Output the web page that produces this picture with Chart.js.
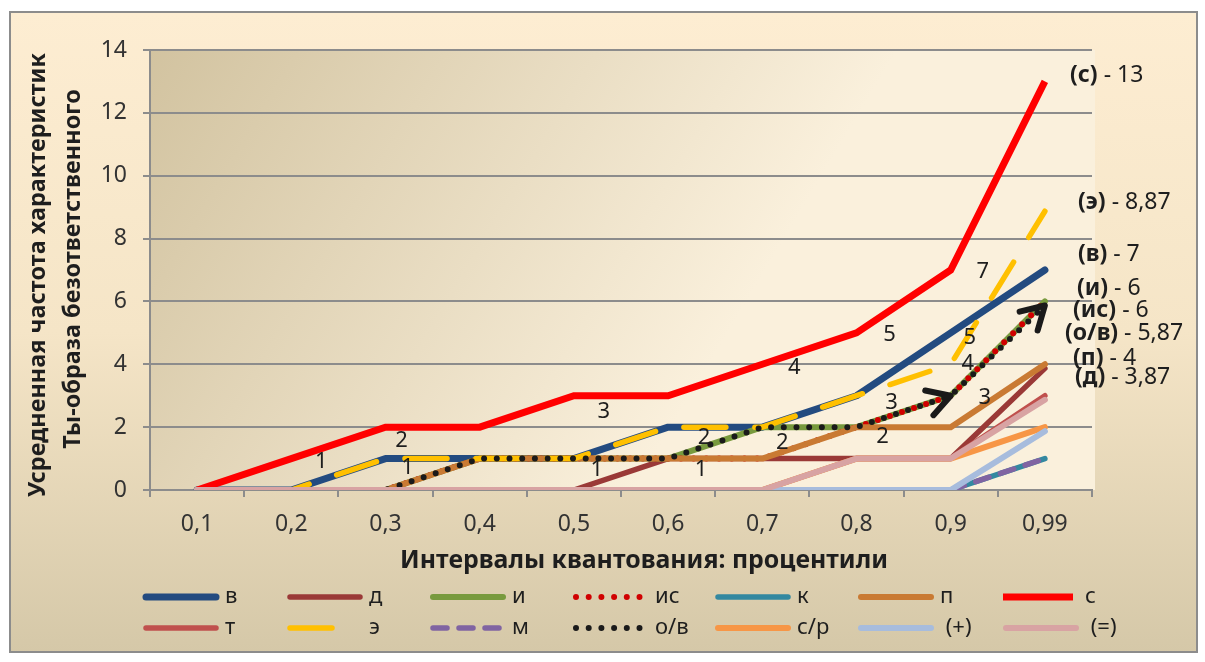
<!DOCTYPE html>
<html>
<head>
<meta charset="utf-8">
<script src="https://cdn.jsdelivr.net/npm/chart.js@4.4.1/dist/chart.umd.min.js"></script>
<style>
  html, body { margin: 0; padding: 0; background: #fff; }
  canvas { display: block; }
</style>
</head>
<body>
<canvas id="chart" width="1205" height="662"></canvas>
<script>
// Quantization intervals (percentiles) on the category axis
const categories = ['0,1', '0,2', '0,3', '0,4', '0,5', '0,6', '0,7', '0,8', '0,9', '0,99'];

// Series names, in legend order
const seriesNames = ['в', 'д', 'и', 'ис', 'к', 'п', 'с', 'т', 'э', 'м', 'о/в', 'с/р', ' (+)', ' (=)'];

// Averaged frequency per interval for each series
const serV    = [0, 0, 1, 1, 1, 2, 2, 3, 5, 7];
const serD    = [0, 0, 0, 0, 0, 1, 1, 1, 1, 3.87];
const serI    = [0, 0, 0, 1, 1, 1, 2, 2, 3, 6];
const serIs   = [0, 0, 0, 1, 1, 1, 1, 2, 3, 6];
const serK    = [0, 0, 0, 0, 0, 0, 0, 0, 0, 1];
const serP    = [0, 0, 0, 1, 1, 1, 1, 2, 2, 4];
const serS    = [0, 1, 2, 2, 3, 3, 4, 5, 7, 13];
const serT    = [0, 0, 0, 0, 0, 0, 0, 1, 1, 3];
const serE    = [0, 0, 1, 1, 1, 2, 2, 3, 4, 8.87];
const serM    = [0, 0, 0, 0, 0, 0, 0, 0, 0, 1];
const serOv   = [0, 0, 0, 1, 1, 1, 2, 2, 3, 5.87];
const serSr   = [0, 0, 0, 0, 0, 0, 0, 1, 1, 2];
const serPlus = [0, 0, 0, 0, 0, 0, 0, 0, 0, 1.87];
const serEq   = [0, 0, 0, 0, 0, 0, 0, 1, 1, 2.87];

const seriesValues = [serV, serD, serI, serIs, serK, serP, serS, serT, serE, serM, serOv, serSr, serPlus, serEq];

// Value axis ticks
const yTicks = [0, 2, 4, 6, 8, 10, 12, 14];

// Line styles per series
const styles = [
  { color: '#234B80', width: 7 },
  { color: '#9A3937', width: 5.5 },
  { color: '#789A3E', width: 6 },
  { color: '#D00000', width: 6, dash: [0, 12.7], dashOffset: 6.35 },
  { color: '#3388A0', width: 5.5 },
  { color: '#C97A33', width: 6 },
  { color: '#FF0000', width: 7, cap: 'butt', join: 'miter' },
  { color: '#C0504D', width: 5.5 },
  { color: '#FFC000', width: 5.5, dash: [42, 29] },
  { color: '#8064A2', width: 5.5, dash: [14, 12] },
  { color: '#1A1A1A', width: 6, dash: [0, 12.7] },
  { color: '#F79646', width: 6 },
  { color: '#A7BCDD', width: 6 },
  { color: '#D8A3A3', width: 6 }
];

// Value labels beside points: [series, point, dx, dy]
const pointLabels = [
  [6, 1, 30, 3], [6, 2, 16, 14], [6, 4, 30, 16], [6, 6, 32, 3], [6, 7, 33, 2], [6, 8, 32, 2],
  [0, 2, 22, 9], [0, 5, 36, 11], [0, 7, 35, 7], [0, 8, 19, 5],
  [10, 4, 23, 11], [10, 5, 33, 11], [10, 6, 20, 16], [10, 7, 26, 10], [10, 8, 34, 2],
  [8, 8, 17, -1]
];

// Final-value captions at the right: [series, left x, centre y]
const endLabels = [
  [6, 1070, 75], [8, 1078, 202], [0, 1078, 254], [2, 1077, 288],
  [3, 1073, 310], [10, 1065, 333], [5, 1073, 358], [1, 1075, 377]
];

const FONT = "'Noto Sans', 'DejaVu Sans', sans-serif";
const TEXT = '#1E1E1E';

function fmt(v) { return String(v).replace('.', ','); }

function fittedSize(ctx, text, weight, width) {
  ctx.font = weight + ' 100px ' + FONT;
  return 100 * width / ctx.measureText(text).width;
}

const datasets = seriesNames.map((name, i) => {
  const st = styles[i];
  return {
    label: name.trim(),
    data: seriesValues[i],
    borderColor: st.color,
    backgroundColor: st.color,
    borderWidth: st.width,
    borderDash: st.dash || [],
    borderDashOffset: st.dashOffset || 0,
    borderCapStyle: st.cap || 'round',
    borderJoinStyle: st.join || 'round',
    pointRadius: 0,
    pointHoverRadius: 0,
    fill: false,
    tension: 0,
    clip: 0,
    order: -i
  };
});

const panelBackground = {
  id: 'panelBackground',
  beforeDraw(chart) {
    const { ctx, chartArea: a } = chart;
    ctx.save();
    ctx.fillStyle = '#FFFFFF';
    ctx.fillRect(0, 0, chart.width, chart.height);
    const g = ctx.createLinearGradient(0, 12, 0, 652);
    g.addColorStop(0, '#FDEDD2');
    g.addColorStop(0.5, '#F5E5C7');
    g.addColorStop(1, '#D5C8A8');
    ctx.fillStyle = g;
    ctx.fillRect(10, 12, 1187, 640);
    ctx.strokeStyle = '#8C8C8C';
    ctx.lineWidth = 2;
    ctx.strokeRect(10, 12, 1187, 640);
    const pg = ctx.createLinearGradient(a.left, a.top, a.left + 550, a.top + 330);
    pg.addColorStop(0, '#D2C3A0');
    pg.addColorStop(1, '#FAF0DC');
    ctx.fillStyle = pg;
    ctx.fillRect(a.left, a.top, a.right - a.left + 3, a.bottom - a.top);
    ctx.restore();
  }
};

const annotations = {
  id: 'annotations',
  afterDatasetsDraw(chart) {
    const ctx = chart.ctx;
    ctx.save();

    // open arrowheads at the ends of the last two о/в segments
    const ov = chart.getDatasetMeta(10).data;
    ctx.strokeStyle = '#1A1A1A';
    ctx.lineWidth = 6;
    ctx.lineCap = 'round';
    ctx.lineJoin = 'round';
    [8, 9].forEach(idx => {
      const tip = ov[idx], prev = ov[idx - 1];
      const ang = Math.atan2(prev.y - tip.y, prev.x - tip.x);
      const len = 26, spread = Math.PI / 6;
      ctx.beginPath();
      ctx.moveTo(tip.x + len * Math.cos(ang + spread), tip.y + len * Math.sin(ang + spread));
      ctx.lineTo(tip.x, tip.y);
      ctx.lineTo(tip.x + len * Math.cos(ang - spread), tip.y + len * Math.sin(ang - spread));
      ctx.stroke();
    });

    // value labels beside points
    ctx.fillStyle = TEXT;
    ctx.font = '22px ' + FONT;
    ctx.textAlign = 'center';
    ctx.textBaseline = 'middle';
    pointLabels.forEach(([si, pi, dx, dy]) => {
      const pt = chart.getDatasetMeta(si).data[pi];
      ctx.fillText(fmt(chart.data.datasets[si].data[pi]), pt.x + dx, pt.y + dy);
    });

    // final values at the right edge
    ctx.textAlign = 'left';
    endLabels.forEach(([si, x, y]) => {
      const ds = chart.data.datasets[si];
      const head = '(' + ds.label + ')';
      const tail = ' - ' + fmt(ds.data[ds.data.length - 1]);
      ctx.font = 'bold 23px ' + FONT;
      ctx.fillText(head, x, y);
      const w = ctx.measureText(head).width;
      ctx.font = '23px ' + FONT;
      ctx.fillText(tail, x + w, y);
    });
    ctx.restore();
  },
  afterDraw(chart) {
    const ctx = chart.ctx;
    ctx.save();
    ctx.fillStyle = TEXT;
    ctx.textAlign = 'center';
    ctx.textBaseline = 'middle';

    // value axis title, two rotated lines
    const y1 = 'Усредненная частота характеристик';
    const y2 = 'Ты-образа безответственного';
    const ys = fittedSize(ctx, y1, 'bold', 444);
    ctx.font = 'bold ' + ys.toFixed(2) + 'px ' + FONT;
    [[y1, 38, 275], [y2, 73, 269]].forEach(([t, x, y]) => {
      ctx.save();
      ctx.translate(x, y);
      ctx.rotate(-Math.PI / 2);
      ctx.fillText(t, 0, 0);
      ctx.restore();
    });

    // category axis title
    const xt = 'Интервалы квантования: процентили';
    const xs = fittedSize(ctx, xt, 'bold', 488);
    ctx.font = 'bold ' + xs.toFixed(2) + 'px ' + FONT;
    ctx.fillText(xt, 644, 561);

    // legend grid
    const cols = [143, 287, 430, 573, 715, 858, 1003];
    const rows = [597, 628];
    chart.data.datasets.forEach((ds, i) => {
      const st = styles[i];
      const x = cols[i % 7], y = rows[Math.floor(i / 7)];
      ctx.save();
      ctx.strokeStyle = st.color;
      ctx.lineWidth = st.width;
      ctx.lineCap = st.cap || 'round';
      ctx.setLineDash(st.dash || []);
      ctx.beginPath();
      if (st.cap === 'butt') { ctx.moveTo(x, y); ctx.lineTo(x + 70, y); }
      else { ctx.moveTo(x + 3, y); ctx.lineTo(x + 73, y); }
      ctx.stroke();
      ctx.restore();
      ctx.font = '22px ' + FONT;
      ctx.textAlign = 'left';
      ctx.fillText(seriesNames[i], x + 82, y);
    });
    ctx.restore();
  }
};

new Chart(document.getElementById('chart'), {
  type: 'line',
  data: { labels: categories, datasets: datasets },
  options: {
    responsive: false,
    animation: false,
    events: [],
    layout: { padding: { left: 12, right: 113, top: 50, bottom: 0 } },
    plugins: { legend: { display: false }, tooltip: { enabled: false } },
    scales: {
      x: {
        offset: true,
        grid: { offset: true, drawOnChartArea: false, drawTicks: true, tickLength: 7, color: '#8C8C8C', lineWidth: 2 },
        border: { color: '#8C8C8C', width: 2 },
        ticks: { font: { family: FONT, size: 23 }, color: '#333333', padding: 14, maxRotation: 0, autoSkip: false },
        afterFit(scale) { scale.height = 172; }
      },
      y: {
        min: yTicks[0],
        max: yTicks[yTicks.length - 1],
        afterBuildTicks(scale) { scale.ticks = yTicks.map(v => ({ value: v })); },
        grid: { color: '#8C8C8C', lineWidth: 2, tickLength: 7 },
        border: { color: '#8C8C8C', width: 2 },
        ticks: { font: { family: FONT, size: 23 }, color: '#333333', padding: 16 },
        afterFit(scale) { scale.width = 138; }
      }
    }
  },
  plugins: [panelBackground, annotations]
});
</script>
</body>
</html>
